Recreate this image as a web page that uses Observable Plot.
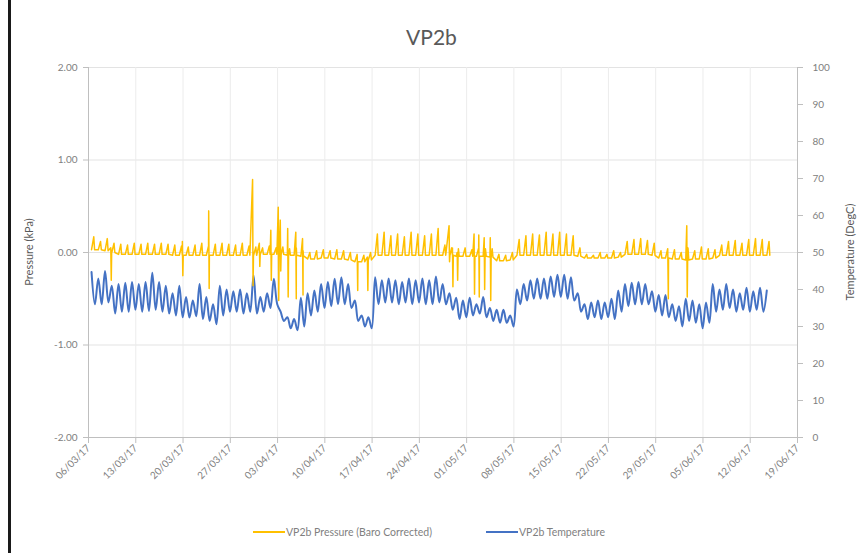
<!DOCTYPE html>
<html>
<head>
<meta charset="utf-8">
<script src="https://cdn.jsdelivr.net/npm/d3@7"></script>
<script src="https://cdn.jsdelivr.net/npm/@observablehq/plot@0.6"></script>
<style>
  body { margin: 0; background: #fff; font-family: Lato, "Open Sans", sans-serif; }
  #wrap { position: relative; width: 863px; height: 553px; overflow: hidden; background: #fff; }
  #frame { position: absolute; left: 8px; top: 0; width: 3px; height: 553px; background: #1a1a1a; }
  #title { position: absolute; left: 0; width: 863px; top: 24px; text-align: center; font-size: 21px; color: #595959; }
  #chart { position: absolute; left: 0; top: 0; }
  .ylab { position: absolute; font-size: 11px; color: #595959; white-space: nowrap; transform: translate(-50%, -50%) rotate(-90deg); }
  .leg { position: absolute; top: 526px; font-size: 10.5px; color: #7f7f7f; white-space: nowrap; display: flex; align-items: center; }
  .sw { display: inline-block; width: 32px; height: 2px; margin-right: 1px; }
</style>
</head>
<body>
<div id="wrap">
  <div id="frame"></div>
  <div id="chart"></div>
  <div id="title">VP2b</div>
  <div class="ylab" style="left:28px; top:252px;">Pressure (kPa)</div>
  <div class="ylab" style="left:849px; top:252px;">Temperature (DegC)</div>
  <div class="leg" style="left:253px;"><span class="sw" style="background:#FFC000"></span>VP2b Pressure (Baro Corrected)</div>
  <div class="leg" style="left:486px;"><span class="sw" style="background:#4472C4"></span>VP2b Temperature</div>
</div>
<script>
// ---------- data ----------
const startLabel = "06/03/17";
const xTickLabels = ["06/03/17","13/03/17","20/03/17","27/03/17","03/04/17","10/04/17","17/04/17","24/04/17",
  "01/05/17","08/05/17","15/05/17","22/05/17","29/05/17","05/06/17","12/06/17","19/06/17"];
const leftTicks = [-2, -1, 0, 1, 2];
const rightTicks = [0, 10, 20, 30, 40, 50, 60, 70, 80, 90, 100];

// Temperature: daily maxima / minima (DegC), day 0 = 06/03/17
const tMax = [
  44.7, 43, 45, 41, 41.5, 41.8, 42, 41.5, 42, 44.5,
  42, 41, 39, 41, 38, 37, 41.5, 38, 36, 41,
  40, 39.5, 40, 39, 43.8, 38, 39, 42.9, 34, 32.5,
  32, 37.8, 39, 39.7, 41.5, 42, 42.9, 43.3, 41.5, 37,
  33, 32.5, 43.3, 42.5, 43, 42.5, 42, 43, 42.5, 43,
  42.5, 43.5, 41.5, 39, 37.8, 37, 37.8, 36, 38, 35,
  34.5, 34.5, 33, 40, 41.5, 42.5, 43, 43, 43.5, 44,
  44, 43.3, 39, 36, 36.5, 37, 36.5, 37.5, 39.7, 41.5,
  41.8, 42, 41.5, 39.5, 38.5, 38.5, 36, 35.5, 37.5, 37,
  36, 36.5, 41.5, 40, 41.5, 40, 39, 40.5, 39.5, 40.5,
  39.7
];
const tMin = [
  36, 36, 36.5, 33.5, 34, 34, 34.5, 34, 34.2, 34.5,
  34, 33.5, 33, 32.5, 32.4, 32.8, 32, 31.5, 30.6, 33,
  34, 34, 33.5, 34, 33.5, 34, 35, 36, 31.5, 29.5,
  29, 30, 33, 34, 35, 35.5, 36, 36, 35, 31.5,
  30, 29.5, 36, 36.5, 36.5, 36, 36.5, 36, 36.5, 36,
  36, 36.5, 36, 34.5, 32, 32.5, 33, 33.5, 32.5, 31.5,
  31, 31, 30, 36, 37, 37.5, 37.5, 37.5, 38, 38,
  37.5, 37, 34, 32, 32.5, 32, 32.5, 32, 34, 35.5,
  36, 36, 36, 34, 33, 32.5, 31.5, 30, 31.5, 31,
  29.5, 31, 34, 34.5, 35, 34, 34.5, 34, 34.5, 34
];

// Pressure: daily base level and daily small peak (kPa)
const pBase = [
  0.03, 0.03, 0.02, 0.0, -0.02, -0.02, -0.02, -0.02, -0.02, -0.02,
  -0.02, -0.02, -0.03, -0.03, -0.03, -0.03, -0.03, -0.03, -0.03, -0.03,
  -0.03, -0.03, -0.03, -0.03, -0.03, -0.02, -0.02, -0.02, -0.02, -0.03,
  -0.03, -0.04, -0.07, -0.07, -0.06, -0.06, -0.07, -0.07, -0.08, -0.1,
  -0.1, -0.08, -0.03, -0.03, -0.03, -0.03, -0.03, -0.03, -0.03, -0.03,
  -0.03, -0.03, -0.03, -0.03, -0.04, -0.04, -0.04, -0.04, -0.04, -0.05,
  -0.09, -0.09, -0.08, -0.03, -0.03, -0.03, -0.03, -0.03, -0.03, -0.03,
  -0.03, -0.03, -0.04, -0.06, -0.06, -0.06, -0.06, -0.06, -0.05, -0.02,
  -0.02, -0.02, -0.02, -0.03, -0.06, -0.06, -0.07, -0.07, -0.08, -0.07,
  -0.07, -0.07, -0.06, -0.03, -0.03, -0.03, -0.03, -0.03, -0.03, -0.03,
  -0.03
];
const pPeak = [
  0.17, 0.12, 0.15, 0.1, 0.09, 0.08, 0.1, 0.09, 0.1, 0.09,
  0.1, 0.09, 0.08, 0.07, 0.06, 0.08, 0.1, 0.07, 0.09, 0.1,
  0.09, 0.08, 0.1, 0.07, 0.06, 0.05, 0.07, 0.05, 0.06, 0.04,
  0.05, 0.02, 0.0, 0.02, 0.03, 0.02, 0.03, 0.02, 0.0, -0.02,
  -0.03, 0.0, 0.2, 0.22, 0.18, 0.2, 0.17, 0.22, 0.2, 0.18,
  0.2, 0.26, 0.08, 0.05, 0.04, 0.05, 0.03, 0.05, 0.04, 0.04,
  -0.02, -0.03, 0.0, 0.14, 0.18, 0.2, 0.19, 0.22, 0.2, 0.22,
  0.2, 0.18, 0.05, -0.02, -0.03, 0.0, -0.02, 0.02, 0.0, 0.12,
  0.14, 0.15, 0.13, 0.1, 0.02, 0.04, 0.03, 0.0, 0.05, 0.02,
  0.06, 0.04, 0.03, 0.08, 0.12, 0.13, 0.1, 0.14, 0.15, 0.14,
  0.12
];
// Pressure spikes: day position, high value, low value
const spikeDay  = [3.3, 13.9, 17.8, 24.3, 25.3, 27.0, 28.1, 28.4, 29.5, 30.7, 31.7, 39.8, 41.3, 53.4, 53.9, 54.6, 57.1, 57.8, 58.6, 59.5, 85.8, 88.6];
const spikeHigh = [0.05, 0.12, 0.45, 0.79, 0.10, 0.24, 0.49, 0.35, 0.26, 0.22, 0.15, -0.05, -0.05, 0.29, 0.05, 0.0, 0.20, 0.19, 0.16, 0.16, -0.05, 0.29];
const spikeLow  = [-0.30, -0.25, -0.39, -0.36, -0.15, -0.30, -0.52, -0.20, -0.48, -0.50, -0.46, -0.41, -0.41, -0.10, -0.37, -0.30, -0.45, -0.48, -0.40, -0.52, -0.50, -0.48];

// ---------- build ----------
const parseDMY = s => { const [dd, mm, yy] = s.split("/").map(Number); return new Date(Date.UTC(2000 + yy, mm - 1, dd)); };
const t0 = parseDMY(startLabel);
const day = f => new Date(t0.getTime() + f * 864e5);
const tickDates = xTickLabels.map(parseDMY);
const labelOf = new Map(tickDates.map((d, i) => [d.getTime(), xTickLabels[i]]));
const tToY = T => (T - 50) / 25;   // secondary axis 0..100 mapped onto -2..2

const tempData = [];
tMax.forEach((v, d) => {
  tempData.push({ t: day(d + 0.45), v });
  if (d < tMin.length) tempData.push({ t: day(d + 0.95), v: tMin[d] });
});

const pressData = [];
pBase.forEach((b, d) => {
  pressData.push({ t: day(d + 0.45), v: b });
  pressData.push({ t: day(d + 0.78), v: pPeak[d] });
  pressData.push({ t: day(d + 0.9), v: b });
});
spikeDay.forEach((s, i) => {
  const b = pBase[Math.floor(s)];
  pressData.push({ t: day(s), v: spikeHigh[i] });
  pressData.push({ t: day(s + 0.07), v: spikeLow[i] });
  pressData.push({ t: day(s + 0.13), v: b });
});
pressData.sort((a, b) => a.t - b.t);

const axisColor = "#bfbfbf";
const labelColor = "#808080";
const chart = Plot.plot({
  width: 863,
  height: 510,
  marginLeft: 88,
  marginRight: 66,
  marginTop: 67,
  marginBottom: 73,
  style: { fontFamily: 'Lato, "Open Sans", sans-serif', fontSize: "10px", color: labelColor, background: "transparent", overflow: "visible" },
  x: { type: "utc", domain: [tickDates[0], tickDates[tickDates.length - 1]] },
  y: { domain: [-2, 2] },
  marks: [
    Plot.gridY(leftTicks, { stroke: "#e3e3e3", strokeOpacity: 1 }),
    Plot.gridX(tickDates, { stroke: "#ececec", strokeOpacity: 1 }),
    Plot.axisY(leftTicks, { anchor: "left", tickFormat: d => d.toFixed(2), tickSize: 5, tickPadding: 6, stroke: axisColor, fill: labelColor, label: null }),
    Plot.axisY(rightTicks.map(tToY), { anchor: "right", tickFormat: d => String(Math.round(d * 25 + 50)), tickSize: 5, tickPadding: 10, stroke: axisColor, fill: labelColor, textAnchor: "start", label: null }),
    Plot.axisX(tickDates, { anchor: "bottom", tickRotate: -45, tickFormat: d => labelOf.get(d.getTime()), tickSize: 6, tickPadding: 3, stroke: axisColor, fill: labelColor, label: null }),
    Plot.ruleX([tickDates[0]], { stroke: axisColor }),
    Plot.ruleX([tickDates[tickDates.length - 1]], { stroke: axisColor }),
    Plot.ruleY([-2], { stroke: axisColor }),
    Plot.line(tempData, { x: "t", y: d => tToY(d.v), stroke: "#4472C4", strokeWidth: 2, curve: "catmull-rom" }),
    Plot.line(pressData, { x: "t", y: "v", stroke: "#FFC000", strokeWidth: 1.5, curve: "linear" })
  ]
});
document.getElementById("chart").appendChild(chart);
</script>
</body>
</html>
